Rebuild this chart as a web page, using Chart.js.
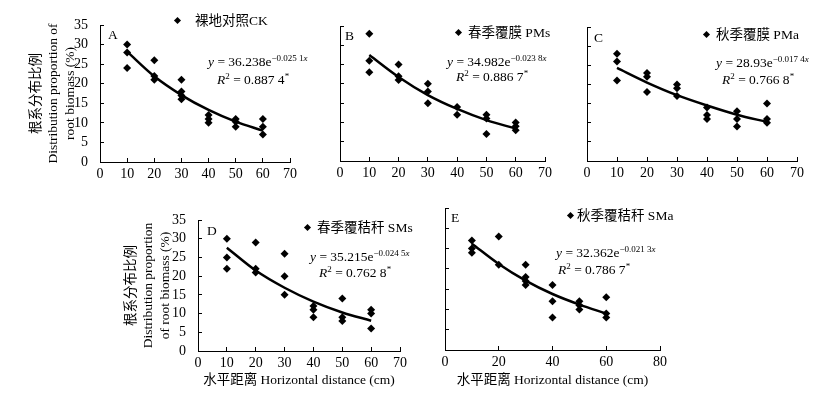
<!DOCTYPE html>
<html>
<head>
<meta charset="utf-8">
<script src="https://cdn.jsdelivr.net/npm/chart.js@4.4.0/dist/chart.umd.min.js"></script>
<style>
  body { margin: 0; background: #fff; }
  #wrap { position: relative; width: 834px; height: 394px; overflow: hidden; }
  canvas { position: absolute; }
  .t { position: absolute; white-space: nowrap; font-family: 'Liberation Serif', 'Noto Sans CJK SC', serif; font-size: 13.5px; line-height: 16px; color: #000; }
  .t sup { font-size: 9px; line-height: 0; vertical-align: 5px; }
  .mk { position: absolute; width: 5px; height: 5px; background: #000; transform: rotate(45deg); }
</style>
</head>
<body>
<div id="wrap">
  <canvas id="cA" width="320" height="190" style="left:0;top:0"></canvas>
  <canvas id="cB" width="270" height="190" style="left:290px;top:0"></canvas>
  <canvas id="cC" width="284" height="190" style="left:550px;top:0"></canvas>
  <canvas id="cD" width="340" height="199" style="left:90px;top:195px"></canvas>
  <canvas id="cE" width="260" height="199" style="left:430px;top:195px"></canvas>

  <!-- 图例 -->
  <div class="mk" style="left:175px;top:18px"></div><div class="t" style="left:195px;top:13px">裸地对照CK</div>
  <div class="mk" style="left:456px;top:30px"></div><div class="t" style="left:468px;top:25px">春季覆膜 PMs</div>
  <div class="mk" style="left:704px;top:32px"></div><div class="t" style="left:716px;top:27px">秋季覆膜 PMa</div>
  <div class="mk" style="left:305px;top:225px"></div><div class="t" style="left:317px;top:220px">春季覆秸秆 SMs</div>
  <div class="mk" style="left:568px;top:213px"></div><div class="t" style="left:577px;top:208px">秋季覆秸秆 SMa</div>

  <!-- 面板字母 -->
  <div class="t" style="left:108px;top:27px">A</div>
  <div class="t" style="left:345px;top:28px">B</div>
  <div class="t" style="left:594px;top:30px">C</div>
  <div class="t" style="left:207px;top:223px">D</div>
  <div class="t" style="left:451px;top:210px">E</div>

  <!-- 拟合方程 -->
  <div class="t" style="left:208px;top:54px"><i>y</i> = 36.238e<sup>−0.025 1<i>x</i></sup></div>
  <div class="t" style="left:217px;top:72px"><i>R</i><sup>2</sup> = 0.887 4<sup>*</sup></div>
  <div class="t" style="left:447px;top:54px"><i>y</i> = 34.982e<sup>−0.023 8<i>x</i></sup></div>
  <div class="t" style="left:456px;top:69px"><i>R</i><sup>2</sup> = 0.886 7<sup>*</sup></div>
  <div class="t" style="left:716px;top:55px"><i>y</i> = 28.93e<sup>−0.017 4<i>x</i></sup></div>
  <div class="t" style="left:722px;top:72px"><i>R</i><sup>2</sup> = 0.766 8<sup>*</sup></div>
  <div class="t" style="left:310px;top:249px"><i>y</i> = 35.215e<sup>−0.024 5<i>x</i></sup></div>
  <div class="t" style="left:319px;top:265px"><i>R</i><sup>2</sup> = 0.762 8<sup>*</sup></div>
  <div class="t" style="left:556px;top:245px"><i>y</i> = 32.362e<sup>−0.021 3<i>x</i></sup></div>
  <div class="t" style="left:558px;top:262px"><i>R</i><sup>2</sup> = 0.786 7<sup>*</sup></div>
</div>
<script>
// 拟合曲线的横坐标
const curveX = [10, 20, 30, 40, 50, 60];

// A 裸地对照CK
const ckX = [10, 10, 10, 20, 20, 20, 30, 30, 30, 30, 40, 40, 40, 50, 50, 50, 60, 60, 60];
const ckY = [30, 28, 24, 26, 22, 21, 21, 18, 17, 16, 12, 11, 10, 11, 10.3, 9, 11, 9, 7];
const ckFit = [28.2, 21.9, 17.1, 13.3, 10.3, 8.0];

// B 春季覆膜 PMs
const pmsX = [10, 10, 10, 20, 20, 20, 30, 30, 30, 40, 40, 50, 50, 50, 60, 60, 60];
const pmsY = [33, 26, 23, 25, 22, 21, 20, 18, 15, 14, 12, 12, 11, 7, 10, 9, 8];
const pmsFit = [27.5, 21.8, 17.1, 13.5, 10.6, 8.4];

// C 秋季覆膜 PMa
const pmaX = [10, 10, 10, 20, 20, 20, 30, 30, 30, 40, 40, 40, 50, 50, 50, 60, 60, 60];
const pmaY = [28, 26, 21, 23, 22, 18, 20, 19, 17, 14, 12, 11, 13, 11, 9, 15, 11, 10];
const pmaFit = [24.3, 20.5, 17.2, 14.5, 12.1, 10.2];

// D 春季覆秸秆 SMs
const smsX = [10, 10, 10, 20, 20, 20, 30, 30, 30, 40, 40, 40, 50, 50, 50, 60, 60, 60];
const smsY = [30, 25, 22, 29, 22, 21, 26, 20, 15, 12, 11, 9, 14, 9, 8, 11, 10, 6];
const smsFit = [27.6, 21.5, 16.9, 13.2, 10.3, 8.1];

// E 秋季覆秸秆 SMa
const smaX = [10, 10, 10, 20, 20, 30, 30, 30, 30, 40, 40, 40, 50, 50, 50, 60, 60, 60];
const smaY = [27, 25, 24, 28, 21, 21, 18, 17, 16, 16, 12, 8, 12, 11, 10, 13, 9, 8];
const smaFit = [26.2, 21.2, 17.1, 13.8, 11.2, 9.0];

const serif = "'Liberation Serif', 'Noto Sans CJK SC', serif";
const yTitleA = ['根系分布比例', 'Distribution proportion of', 'root biomass (%)'];
const yTitleD = ['根系分布比例', 'Distribution proportion', 'of root biomass (%)'];
const xTitle = '水平距离 Horizontal distance (cm)';

function pts(xs, ys) {
  return xs.map((x, i) => ({ x: x, y: ys[i] }));
}

function makePanel(id, p) {
  new Chart(document.getElementById(id), {
    type: 'scatter',
    data: {
      datasets: [
        {
          data: pts(p.xs, p.ys),
          pointStyle: 'rectRot',
          pointRadius: 4,
          backgroundColor: '#000',
          borderWidth: 0,
        },
        {
          type: 'line',
          data: pts(curveX, p.fit),
          borderColor: '#000',
          borderWidth: 2.5,
          pointRadius: 0,
          cubicInterpolationMode: 'monotone',
          fill: false,
        },
      ],
    },
    options: {
      responsive: false,
      animation: false,
      events: [],
      layout: { padding: { top: p.top, right: p.right, left: 0, bottom: 0 } },
      plugins: { legend: { display: false }, tooltip: { enabled: false } },
      scales: {
        x: {
          type: 'linear',
          min: 0,
          max: p.xMax,
          ticks: { stepSize: p.xStep, autoSkip: false, maxRotation: 0, color: '#000', font: { family: serif, size: 14 }, padding: 8 },
          grid: { drawOnChartArea: false, tickLength: -4, color: '#000' },
          border: { color: '#000' },
          title: {
            display: !!p.xTitle,
            text: p.xTitle,
            color: '#000',
            font: { family: serif, size: 13.5, lineHeight: 1.25 },
            padding: { top: 0, bottom: 5 },
          },
          afterFit: (s) => { s.height = p.xh; },
        },
        y: {
          type: 'linear',
          min: 0,
          max: 35,
          ticks: { stepSize: 5, autoSkip: false, display: p.yLabels, color: '#000', font: { family: serif, size: 14 }, padding: 16 },
          grid: { drawOnChartArea: false, tickLength: -4, color: '#000' },
          border: { color: '#000' },
          title: {
            display: !!p.yTitle,
            text: p.yTitle,
            color: '#000',
            font: { family: serif, size: 13.5, lineHeight: 1.25 },
            padding: { top: p.yTitlePad, bottom: 0 },
          },
          afterFit: (s) => { s.width = p.yw; },
        },
      },
    },
  });
}

makePanel('cA', { xs: ckX, ys: ckY, fit: ckFit, top: 25, right: 30, xh: 28, yw: 100, xMax: 70, xStep: 10, yLabels: true, yTitle: yTitleA, yTitlePad: 28 });
makePanel('cB', { xs: pmsX, ys: pmsY, fit: pmsFit, top: 26, right: 15, xh: 29, yw: 50, xMax: 70, xStep: 10, yLabels: false });
makePanel('cC', { xs: pmaX, ys: pmaY, fit: pmaFit, top: 27, right: 37, xh: 29, yw: 37, xMax: 70, xStep: 10, yLabels: false });
makePanel('cD', { xs: smsX, ys: smsY, fit: smsFit, top: 25, right: 30, xh: 43, yw: 108, xMax: 70, xStep: 10, yLabels: true, yTitle: yTitleD, yTitlePad: 33, xTitle: xTitle });
makePanel('cE', { xs: smaX, ys: smaY, fit: smaFit, top: 13, right: 30, xh: 44, yw: 15, xMax: 80, xStep: 20, yLabels: false, xTitle: xTitle });
</script>
</body>
</html>
